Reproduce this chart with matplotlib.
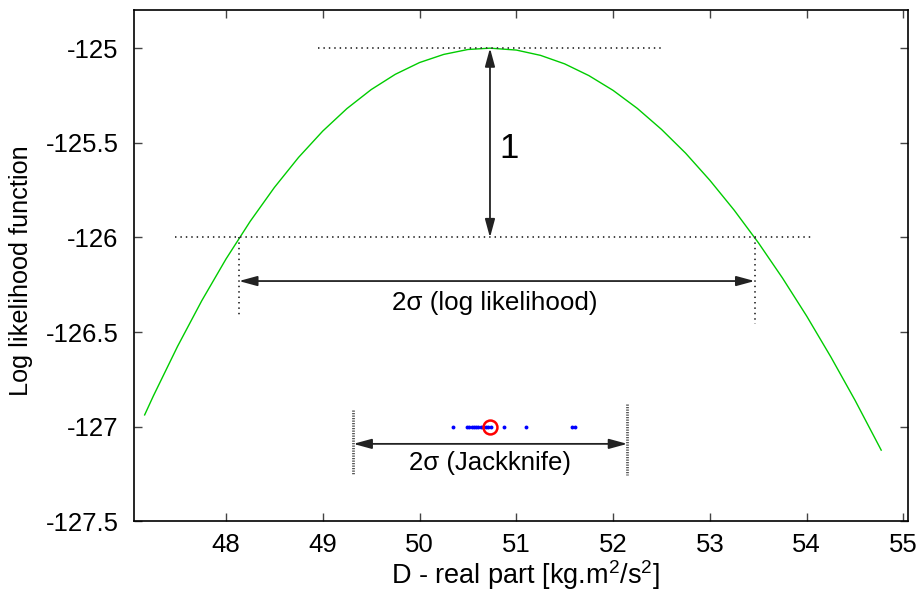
import matplotlib
matplotlib.use("agg")
import matplotlib.pyplot as plt
from matplotlib import rcParams

rcParams['font.family'] = ['Liberation Sans', 'DejaVu Sans']
rcParams['mathtext.fontset'] = 'custom'
rcParams['mathtext.rm'] = 'Liberation Sans'
rcParams['mathtext.it'] = 'Liberation Sans:italic'

# log likelihood as a function of the real part of D
d_real = [47.16, 47.25, 47.5, 47.75, 48.0, 48.25, 48.5, 48.75, 49.0, 49.25,
          49.5, 49.75, 50.0, 50.25, 50.5, 50.728, 51.0, 51.25, 51.5, 51.75,
          52.0, 52.25, 52.5, 52.75, 53.0, 53.25, 53.5, 53.75, 54.0, 54.25,
          54.5, 54.77]
log_lik = [-126.937, -126.837, -126.575, -126.334, -126.114, -125.915, -125.736,
           -125.577, -125.438, -125.319, -125.219, -125.138, -125.076, -125.033,
           -125.007, -125.000, -125.010, -125.038, -125.083, -125.145, -125.223,
           -125.318, -125.429, -125.555, -125.698, -125.855, -126.027, -126.214,
           -126.415, -126.631, -126.860, -127.123]

# maximum and the points where log L drops by one
d_best = 50.728
ll_max = -125.0
ll_drop = -126.0
d_low, d_high = 48.134, 53.462

# jackknife estimates and their spread
jack_vals = [50.349, 50.494, 50.514, 50.539, 50.563, 50.584, 50.607, 50.632,
             50.659, 50.687, 50.711, 50.736, 50.873, 51.097, 51.579, 51.607]
jack_mean = 50.728
jack_low, jack_high = 49.316, 52.147

fig = plt.figure(figsize=(9.2, 5.91), dpi=100)
ax = fig.add_axes([0.14565, 0.1176, 0.84163, 0.86497])

ax.plot(d_real, log_lik, color='#00cc00', lw=1.0)

dots = dict(color='#333333', lw=1.3, linestyle=(0, (0.8, 2.2)))
ax.plot([48.95, 52.52], [ll_max, ll_max], **dots)
ax.plot([47.473, 54.053], [ll_drop, ll_drop], **dots)
ax.plot([d_low, d_low], [ll_drop, -126.427], **dots)
ax.plot([d_high, d_high], [ll_drop, -126.455], **dots)

arrow = dict(arrowstyle='<|-|>,head_length=1.1,head_width=0.3',
             color='#222222', lw=1.3, shrinkA=0, shrinkB=0)
ax.annotate('', xy=(d_best, ll_drop), xytext=(d_best, ll_max), arrowprops=arrow)
ax.text(50.92, -125.528, '1', fontsize=25, ha='center', va='center')

ax.annotate('', xy=(d_high, -126.23), xytext=(d_low, -126.23), arrowprops=arrow)
ax.text(50.78, -126.348, '2σ (log likelihood)', fontsize=18.7,
        ha='center', va='center')

# jackknife spread
jdots = dict(color='#555555', lw=2.0, linestyle=(0, (0.45, 0.45)))
ax.plot([jack_low, jack_low], [-126.911, -127.252], **jdots)
ax.plot([jack_high, jack_high], [-126.880, -127.252], **jdots)
ax.plot(jack_vals, [-127.0] * len(jack_vals), 'o', color='#0000ff', ms=2.8, mew=0)
ax.plot([jack_mean], [-127.0], 'o', mfc='none', mec='#ff0000', ms=10, mew=1.8)
ax.annotate('', xy=(jack_high, -127.09), xytext=(jack_low, -127.09), arrowprops=arrow)
ax.text(50.728, -127.193, '2σ (Jackknife)', fontsize=18.5, ha='center', va='center')

ax.set_xlim(47.05, 55.05)
ax.set_ylim(-127.5, -124.8)
ax.set_xticks([48, 49, 50, 51, 52, 53, 54, 55])
ax.set_xticklabels(['48', '49', '50', '51', '52', '53', '54', '55'])
ax.set_yticks([-125, -125.5, -126, -126.5, -127, -127.5])
ax.set_yticklabels(['-125', '-125.5', '-126', '-126.5', '-127', '-127.5'])
ax.tick_params(direction='in', length=5.5, width=1.0, color='#444444',
               labelsize=18.5, top=True, right=True)
ax.tick_params(axis='x', pad=8)
ax.tick_params(axis='y', pad=11)
for sp in ax.spines.values():
    sp.set_linewidth(1.2)

ax.set_xlabel(r'D - real part [kg.m$^{\mathrm{2}}$/s$^{\mathrm{2}}$]', fontsize=19.5)
ax.xaxis.set_label_coords(0.505, -0.072)
ax.set_ylabel('Log likelihood function', fontsize=18.2)
ax.yaxis.set_label_coords(-0.131, 0.49)

plt.savefig('out.png', dpi=100)
